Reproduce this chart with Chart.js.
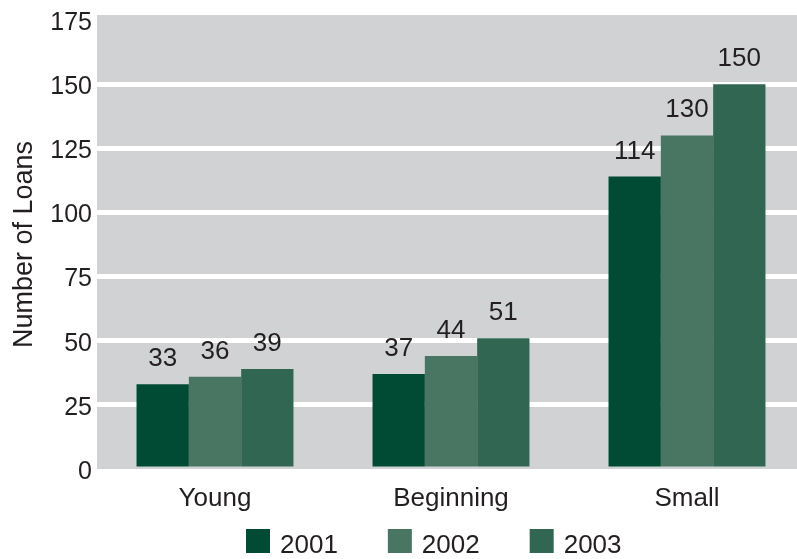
<!DOCTYPE html>
<html>
<head>
<meta charset="utf-8">
<script src="https://cdn.jsdelivr.net/npm/chart.js@4.4.1/dist/chart.umd.min.js"></script>
<style>
  html, body { margin: 0; padding: 0; background: #fff; overflow: hidden; }
  canvas { display: block; }
</style>
</head>
<body>
<canvas id="loansChart" width="805" height="559"></canvas>
<script>
// loan counts per borrower group
var groups = ['Young', 'Beginning', 'Small'];
var years = ['2001', '2002', '2003'];
var loans2001 = [33, 37, 114];
var loans2002 = [36, 44, 130];
var loans2003 = [39, 51, 150];
var yTicks = [0, 25, 50, 75, 100, 125, 150, 175];

var barColors = ['#014a34', '#497662', '#316652'];
var textColor = '#231f20';
var fontFamily = '"Liberation Sans", Arial, Helvetica, sans-serif';

// grey panel behind the plot
var panelBg = {
  id: 'panelBg',
  beforeDraw: function(chart) {
    var a = chart.chartArea, ctx = chart.ctx;
    ctx.save();
    ctx.fillStyle = '#d1d2d4';
    ctx.fillRect(a.left, a.top - 5, a.right - a.left, a.bottom - a.top + 5);
    ctx.restore();
  }
};

// value above each bar
var barValues = {
  id: 'barValues',
  afterDatasetsDraw: function(chart) {
    var ctx = chart.ctx;
    ctx.save();
    ctx.font = '26px ' + fontFamily;
    ctx.fillStyle = textColor;
    ctx.textAlign = 'center';
    ctx.textBaseline = 'alphabetic';
    chart.data.datasets.forEach(function(ds, i) {
      chart.getDatasetMeta(i).data.forEach(function(bar, j) {
        ctx.fillText(ds.data[j], bar.x, bar.y - 18);
      });
    });
    ctx.restore();
  }
};

// legend row under the axis
var yearLegend = {
  id: 'yearLegend',
  afterDraw: function(chart) {
    var ctx = chart.ctx;
    var x = 246, top = 529, box = 24;
    ctx.save();
    ctx.font = '26px ' + fontFamily;
    ctx.textBaseline = 'alphabetic';
    chart.data.datasets.forEach(function(ds) {
      ctx.fillStyle = ds.backgroundColor;
      ctx.fillRect(x, top, box, box);
      ctx.fillStyle = textColor;
      ctx.fillText(ds.label, x + box + 10, top + box);
      x += box + 10 + ctx.measureText(ds.label).width + 50;
    });
    ctx.restore();
  }
};

var ctx = document.getElementById('loansChart').getContext('2d');
var loansChart = new Chart(ctx, {
  type: 'bar',
  data: {
    labels: groups,
    datasets: [
      { label: years[0], data: loans2001, backgroundColor: barColors[0] },
      { label: years[1], data: loans2002, backgroundColor: barColors[1] },
      { label: years[2], data: loans2003, backgroundColor: barColors[2] }
    ]
  },
  options: {
    responsive: false,
    animation: false,
    events: [],
    layout: { padding: { top: 20, right: 0, bottom: 38, left: 0 } },
    datasets: {
      bar: { categoryPercentage: 0.665, barPercentage: 1.0, borderWidth: 0 }
    },
    plugins: {
      legend: { display: false },
      tooltip: { enabled: false }
    },
    scales: {
      x: {
        grid: { display: false, drawTicks: false },
        border: { display: false },
        ticks: {
          color: textColor,
          font: { family: fontFamily, size: 26 },
          padding: 14
        },
        afterFit: function(scale) { scale.height = 52; }
      },
      y: {
        min: 0,
        max: 175,
        afterBuildTicks: function(scale) {
          scale.ticks = yTicks.map(function(v) { return { value: v }; });
        },
        grid: {
          drawTicks: false,
          lineWidth: 5,
          color: function(c) {
            var v = c.tick && c.tick.value;
            return (v === 0 || v === 175) ? 'rgba(0,0,0,0)' : '#ffffff';
          }
        },
        border: { display: false },
        ticks: {
          color: textColor,
          font: { family: fontFamily, size: 25 },
          padding: 5,
          labelOffset: 3
        },
        title: {
          display: true,
          text: 'Number of Loans',
          color: textColor,
          font: { family: fontFamily, size: 27 },
          padding: { top: 8, bottom: 0 }
        },
        afterFit: function(scale) { scale.width = 97; }
      }
    }
  },
  plugins: [panelBg, barValues, yearLegend]
});
</script>
</body>
</html>
